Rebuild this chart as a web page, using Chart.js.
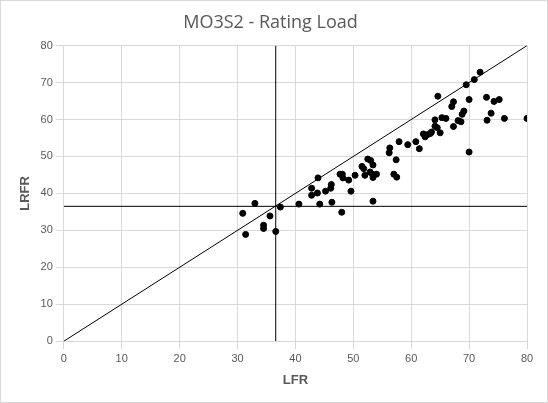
<!DOCTYPE html>
<html>
<head>
<meta charset="utf-8">
<script src="https://cdn.jsdelivr.net/npm/chart.js@4/dist/chart.umd.min.js"></script>
<style>
  body { margin: 0; background: #fff; }
  #wrap { width: 546px; height: 401px; border: 1px solid #d9d9d9; }
</style>
</head>
<body>
<div id="wrap"><canvas id="myChart" width="546" height="401"></canvas></div>
<script>
const lfr = [30.9, 31.4, 33.0, 34.5, 34.5, 35.6, 36.6, 37.4, 40.6, 42.8, 42.8, 43.8, 43.9, 44.2, 45.2, 46.1, 46.2, 46.3,
  47.7, 48.1, 48.2, 48.0, 49.2, 49.6, 50.3, 51.5, 51.8, 52.0, 52.5, 53.0, 53.4, 52.9, 53.3, 53.4, 54.0, 53.4,
  56.2, 56.3, 57.4, 57.0, 57.5, 57.9, 59.4, 60.8, 61.4, 62.1, 62.4, 62.8, 63.3, 63.5, 64.1, 64.1, 64.5, 65.0,
  64.6, 65.3, 66.0, 67.0, 67.3, 67.3, 68.1, 68.6, 68.8, 69.1, 69.5, 70.0, 70.0, 70.9, 71.9, 73.0, 73.1, 73.8,
  74.3, 75.2, 76.1, 80.0];
const lrfr = [34.6, 28.9, 37.3, 31.4, 30.5, 33.9, 29.7, 36.3, 37.1, 41.4, 39.5, 40.1, 44.2, 37.1, 40.6, 41.4, 42.4, 37.6,
  45.2, 45.2, 44.2, 34.9, 43.6, 40.6, 44.9, 47.3, 46.7, 44.9, 49.3, 48.9, 47.7, 45.8, 45.2, 44.3, 45.2, 37.9,
  51.0, 52.3, 49.1, 45.2, 44.4, 54.0, 53.2, 54.0, 52.1, 56.1, 55.3, 55.9, 56.2, 56.6, 59.9, 58.2, 57.8, 56.4,
  66.3, 60.5, 60.3, 63.5, 64.8, 58.1, 59.7, 59.4, 61.4, 62.3, 69.4, 65.4, 51.2, 70.8, 72.8, 66.0, 59.8, 61.7,
  64.9, 65.4, 60.3, 60.3];
const refLfr = 36.6;
const refLrfr = 36.5;
const axisMin = 0;
const axisMax = 80;

const points = lfr.map((x, i) => ({ x: x, y: lrfr[i] }));
const lineStyle = { type: "scatter", showLine: true, borderColor: "#000", borderWidth: 1, pointRadius: 0, fill: false };

new Chart(document.getElementById("myChart"), {
  type: "scatter",
  data: {
    datasets: [
      { ...lineStyle, data: [{ x: axisMin, y: axisMin }, { x: axisMax, y: axisMax }] },
      { ...lineStyle, data: [{ x: refLfr, y: axisMin }, { x: refLfr, y: axisMax }] },
      { ...lineStyle, data: [{ x: axisMin, y: refLrfr }, { x: axisMax, y: refLrfr }] },
      { data: points, backgroundColor: "#000", borderColor: "#000", pointRadius: 3 },
    ],
  },
  options: {
    responsive: false,
    animation: false,
    layout: { padding: { left: 13, right: 20, top: 5, bottom: 10 } },
    plugins: {
      legend: { display: false },
      tooltip: { enabled: false },
      title: {
        display: true,
        text: "MO3S2 - Rating Load",
        color: "#595959",
        font: { family: "Open Sans", size: 18, weight: "normal" },
        padding: { top: 6, bottom: 12 },
      },
    },
    scales: {
      x: {
        min: axisMin, max: axisMax,
        ticks: { stepSize: 10, color: "#595959", font: { family: "Liberation Sans", size: 11 } },
        grid: { color: "#d9d9d9" },
        border: { color: "#d9d9d9" },
        title: { display: true, text: "LFR", color: "#595959", font: { family: "Liberation Sans", size: 13, weight: "bold" } },
      },
      y: {
        min: axisMin, max: axisMax,
        ticks: { stepSize: 10, color: "#595959", font: { family: "Liberation Sans", size: 11 } },
        grid: { color: "#d9d9d9" },
        border: { color: "#d9d9d9" },
        title: { display: true, text: "LRFR", color: "#595959", font: { family: "Liberation Sans", size: 13, weight: "bold" } },
      },
    },
  },
});
</script>
</body>
</html>
